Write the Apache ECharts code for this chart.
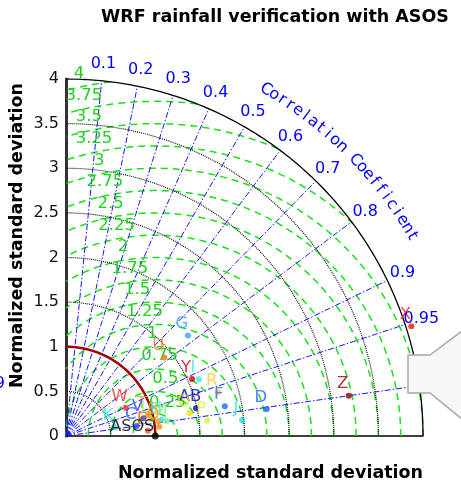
<!DOCTYPE html>
<html>
<head>
  <meta charset="utf-8">
  <title>WRF rainfall verification with ASOS</title>
  <style>
    html, body { margin: 0; padding: 0; background: #fff; }
    #main { width: 461px; height: 487px; }
  </style>
</head>
<body>
  <div id="main"></div>
  <script src="https://cdn.jsdelivr.net/npm/echarts@6/dist/echarts.min.js"></script>
  <script type="text/javascript">
    const TITLE = 'WRF rainfall verification with ASOS'
    const AXIS_NAME = 'Normalized standard deviation'
    const CORR_NAME = 'Correlation Coefficient'
    const STD_TICKS = [0, 0.5, 1, 1.5, 2, 2.5, 3, 3.5, 4]
    const STD_RINGS = [0.5, 1, 1.5, 2, 2.5, 3, 3.5]
    const CORR_TICKS = [0.1, 0.2, 0.3, 0.4, 0.5, 0.6, 0.7, 0.8, 0.9, 0.95, 0.99]
    const RMS_LEVELS = [0.25, 0.5, 0.75, 1, 1.25, 1.5, 1.75, 2, 2.25, 2.5, 2.75, 3, 3.25, 3.5, 3.75, 4]

    // reference (observations)
    const REF_NAME = 'ASOS'
    const REF_STD = 1

    // model runs: normalized std and correlation
    const NAMES = ['X', 'Z', 'D', 'J', 'F', 'R', 'I', 'Y', 'G', 'U', 'AB', 'O', 'P', 'W', 'K', 'C', 'T', 'V', 'L', 'S', 'H', 'M', 'E', 'Q']
    const STDS = [4.06, 3.20, 2.27, 1.98, 1.81, 1.77, 1.62, 1.55, 1.77, 1.41, 1.49, 1.41, 1.59, 0.74, 0.55, 0.80, 0.945, 0.89, 0.97, 1.05, 1.09, 1.14, 0.92, 1.05]
    const CORRS = [0.953, 0.990, 0.991, 0.996, 0.983, 0.961, 0.920, 0.911, 0.772, 0.781, 0.978, 0.983, 0.994, 0.904, 0.983, 0.990, 0.969, 0.975, 0.981, 0.987, 0.986, 0.989, 0.998, 0.995]
    const COLORS = ['#ff1010', '#a00000', '#1a5cff', '#22ddee', '#1a6aff', '#ffc830', '#33e6ff', '#d00000', '#3aa0ff', '#ff7010', '#0000c0', '#f0e000', '#d8f030', '#ee3020', '#30e8e0', '#1050ff', '#ff9a10', '#2040ff', '#90e860', '#ffa020', '#40e0f0', '#80f080', '#ff5010', '#ff8c00']

    const FONT = 'DejaVu Sans'
    const RMAX = 4
    const deg = Math.PI / 180
    let log = console.log.bind(console)

    let fmt = (v) => String(+v.toFixed(2))

    // arc centred at (cx, 0) from angle a0 to a1 (radians)
    let arc = (cx, r, a0, a1) => {
      let pts = []
      let n = 180
      for (let i = 0; i <= n; i++) {
        let a = a0 + (a1 - a0) * i / n
        pts.push([cx + r * Math.cos(a), r * Math.sin(a)])
      }
      return pts
    }

    // centred RMS contour around the reference, clipped to the quarter disc
    let rmsArc = (r) => {
      let a0 = 0
      let a1 = Math.PI
      if (r >= 3) a0 = Math.acos((RMAX * RMAX - REF_STD * REF_STD - r * r) / (2 * REF_STD * r))
      if (r > REF_STD) a1 = Math.acos(-REF_STD / r)
      return arc(REF_STD, r, a0, a1)
    }

    let toXY = (s, c) => [s * c, s * Math.sin(Math.acos(c))]

    let points = NAMES.map((n, i) => ({
      name: n,
      value: toXY(STDS[i], CORRS[i]),
      itemStyle: { color: COLORS[i] },
      label: { color: COLORS[i] }
    }))

    let OPTION = {
      animation: false,
      backgroundColor: '#fff',
      textStyle: { fontFamily: FONT },
      title: {
        text: TITLE,
        left: 96,
        top: 3,
        textStyle: { fontFamily: FONT, fontSize: 17.5, fontWeight: 'bold', color: '#000' }
      },
      grid: { left: 66, top: 79, width: 357, height: 357 },
      xAxis: {
        type: 'value', min: 0, max: RMAX, interval: 0.5,
        axisLine: { lineStyle: { color: '#000', width: 1.5 } },
        axisTick: { show: false },
        axisLabel: { show: false },
        splitLine: { show: false }
      },
      yAxis: {
        type: 'value', min: 0, max: RMAX, interval: 0.5,
        axisLine: { show: true, lineStyle: { color: '#333', width: 3 } },
        axisTick: { show: false },
        axisLabel: { fontFamily: FONT, fontSize: 16, color: '#111', margin: 7, formatter: (v) => fmt(v) },
        splitLine: { show: false }
      },
      series: [
        {
          type: 'lines', coordinateSystem: 'cartesian2d', polyline: true, silent: true, z: 2,
          lineStyle: { color: '#16e016', width: 1.5, type: [7, 5], opacity: 1 },
          data: RMS_LEVELS.map(r => ({ coords: rmsArc(r) }))
        },
        {
          type: 'lines', coordinateSystem: 'cartesian2d', polyline: true, silent: true, z: 3,
          lineStyle: { color: '#111', width: 1.2, type: [1, 1], opacity: 1 },
          data: STD_RINGS.map(r => ({ coords: arc(0, r, 0, Math.PI / 2) }))
        },
        {
          type: 'lines', coordinateSystem: 'cartesian2d', polyline: true, silent: true, z: 3,
          lineStyle: { color: '#1414ff', width: 1, type: [6, 2, 1.5, 2], opacity: 1 },
          data: CORR_TICKS.map(c => ({ coords: [[0, 0], toXY(RMAX, c)] }))
        },
        {
          type: 'lines', coordinateSystem: 'cartesian2d', polyline: true, silent: true, z: 4,
          lineStyle: { color: '#000', width: 1.3, opacity: 1 },
          data: [{ coords: arc(0, RMAX, 0, Math.PI / 2) }]
        },
        {
          type: 'lines', coordinateSystem: 'cartesian2d', polyline: true, silent: true, z: 5,
          lineStyle: { color: '#a00000', width: 2.5, opacity: 1 },
          data: [{ coords: arc(0, REF_STD, 0, Math.PI / 2) }]
        },
        {
          type: 'scatter', clip: false, z: 10, symbolSize: 6,
          data: points,
          label: {
            show: true, position: 'top', distance: 0, offset: [-6, 0],
            formatter: '{b}', fontFamily: FONT, fontSize: 16.5
          }
        },
        {
          type: 'scatter', clip: false, z: 11, symbolSize: 7,
          itemStyle: { color: '#000' },
          data: [{ name: REF_NAME, value: [REF_STD, 0] }],
          label: {
            show: true, position: 'inside', offset: [-23, -9],
            formatter: '{b}', fontFamily: FONT, fontSize: 16, color: '#000'
          }
        }
      ]
    }

    let drawChart = () => {
      let element = document.querySelector('#main')
      let chart = echarts.init(element, null, { renderer: 'canvas' })
      chart.setOption(OPTION)
      let px = (x, y) => chart.convertToPixel({ gridIndex: 0 }, [x, y])
      let g = []
      // correlation labels
      CORR_TICKS.forEach(c => {
        let p = px(...toXY(4.19, c))
        g.push({
          type: 'text', x: p[0], y: p[1], z: 20,
          style: { text: fmt(c), fill: '#0000ff', font: '16px "DejaVu Sans"', align: 'center', verticalAlign: 'middle' }
        })
      })
      // rms labels
      RMS_LEVELS.forEach(r => {
        let a = (102 - 32 * Math.exp(-(r - 0.25) * 1.5)) * deg
        let d = r + 0.15
        let p = px(REF_STD + d * Math.cos(a), d * Math.sin(a))
        g.push({
          type: 'text', x: p[0], y: p[1], z: 6,
          style: { text: fmt(r), fill: '#1ed01e', font: '16.5px "DejaVu Sans"', align: 'center', verticalAlign: 'middle' }
        })
      })
      // curved axis title
      let chars = CORR_NAME.split('')
      chars.forEach((ch, i) => {
        let t = (60 - 30 * i / (chars.length - 1)) * deg
        let p = px(4.48 * Math.cos(t), 4.48 * Math.sin(t))
        g.push({
          type: 'text', x: p[0], y: p[1], rotation: t - Math.PI / 2, z: 20,
          style: { text: ch, fill: '#0000ff', font: '16px "DejaVu Sans"', align: 'center', verticalAlign: 'middle' }
        })
      })
      // axis names
      let o = px(0, 0)
      let e = px(RMAX, 0)
      g.push({
        type: 'text', x: (o[0] + e[0]) / 2 + 26, y: o[1] + 37, z: 20,
        style: { text: AXIS_NAME, fill: '#000', font: 'bold 17.5px "DejaVu Sans"', align: 'center', verticalAlign: 'middle' }
      })
      let top = px(0, RMAX)
      g.push({
        type: 'text', x: 17, y: (o[1] + top[1]) / 2 - 22, rotation: Math.PI / 2, z: 20,
        style: { text: AXIS_NAME, fill: '#000', font: 'bold 17.5px "DejaVu Sans"', align: 'center', verticalAlign: 'middle' }
      })
      g.push({
        type: 'text', x: 5, y: 384, z: 20,
        style: { text: '0.99', fill: '#0000ff', font: '16px "DejaVu Sans"', align: 'right', verticalAlign: 'middle' }
      })
      // callout shape on the right edge of the screenshot
      g.push({
        type: 'polygon', z: 30,
        shape: { points: [[408, 355], [430, 355], [462, 331], [462, 419], [430, 393], [408, 393]] },
        style: { fill: '#f7f7f7', stroke: '#a8a8a8', lineWidth: 1.5 }
      })
      chart.setOption({ graphic: g })
    }

    drawChart()
  </script>
</body>
</html>
